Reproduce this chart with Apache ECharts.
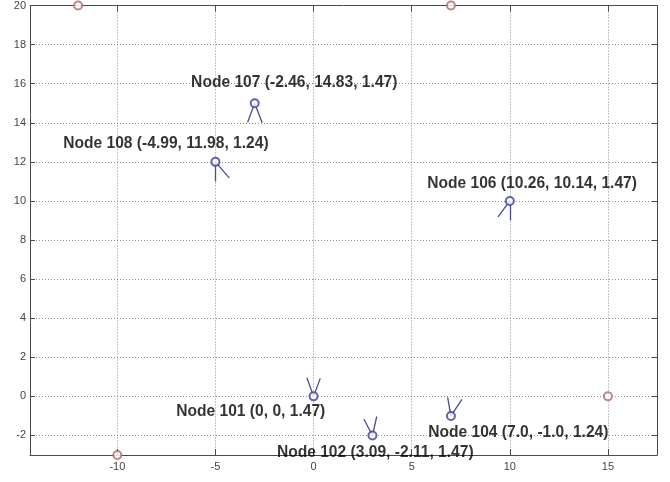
<!DOCTYPE html>
<html>
<head>
<meta charset="utf-8">
<script src="https://cdn.jsdelivr.net/npm/echarts@6/dist/echarts.min.js"></script>
<style>html,body{margin:0;padding:0;background:#fff}#c{width:670px;height:482px}</style>
</head>
<body>
<div id="c"></div>
<script>
// Anchor (reference) points, red circles
var anchorX = [-12, 7, 15, -10];
var anchorY = [20, 20, 0, -3];

// Nodes, blue circles
var nodeX = [0, 3, 7, 10, -3, -5];
var nodeY = [0, -2, -1, 10, 15, 12];

// Orientation arms (offsets from each node, data units)
var armAx = [-0.34, -0.43, -0.17, 0, -0.36, 0];
var armAy = [0.95, 0.83, 0.95, -1.0, -0.97, -1.0];
var armBx = [0.34, 0.22, 0.56, -0.6, 0.38, 0.7];
var armBy = [0.92, 0.97, 0.85, -0.82, -1.0, -0.82];

// Text annotations
var labelTexts = [
  'Node 101 (0, 0, 1.47)',
  'Node 102 (3.09, -2.11, 1.47)',
  'Node 104 (7.0, -1.0, 1.24)',
  'Node 106 (10.26, 10.14, 1.47)',
  'Node 107 (-2.46, 14.83, 1.47)',
  'Node 108 (-4.99, 11.98, 1.24)'
];
var labelX = [-7.0, -1.87, 5.84, 5.79, -6.24, -12.76];
var labelY = [-0.8, -2.86, -1.87, 10.88, 16.04, 12.92];

// Axis ranges / ticks
var xMin = -14.45, xMax = 17.5, xStep = 5;
var yMin = -3, yMax = 20, yStep = 2;

var FONT = '"Liberation Sans", Arial, sans-serif';
var axisColor = '#4a4a4a';

function makeAxis(isX, pos, showLabel, isMain) {
  var ax = {
    type: 'value',
    position: pos,
    min: isX ? xMin : yMin,
    max: isX ? xMax : yMax,
    minInterval: isX ? xStep : yStep,
    maxInterval: isX ? xStep : yStep,
    axisLine: { show: true, onZero: false, lineStyle: { color: axisColor, width: 1 } },
    axisTick: { show: true, inside: true, length: isX ? 6 : 5, lineStyle: { color: axisColor } },
    axisLabel: {
      show: showLabel,
      showMinLabel: true,
      showMaxLabel: true,
      color: '#444',
      fontFamily: FONT,
      fontSize: 11,
      margin: isX ? 6 : 4,
      formatter: function (v) {
        var s = isX ? xStep : yStep;
        return (Math.abs(v / s - Math.round(v / s)) < 1e-6) ? String(v) : '';
      }
    },
    splitLine: {
      show: isMain,
      lineStyle: { color: '#8c8c8c', type: [1, 2], width: 1 }
    }
  };
  return ax;
}

var lineData = [];
for (var i = 0; i < nodeX.length; i++) {
  lineData.push({ coords: [[nodeX[i], nodeY[i]], [nodeX[i] + armAx[i], nodeY[i] + armAy[i]]] });
  lineData.push({ coords: [[nodeX[i], nodeY[i]], [nodeX[i] + armBx[i], nodeY[i] + armBy[i]]] });
}

var anchors = anchorX.map(function (x, i) { return [x, anchorY[i]]; });
var nodes = nodeX.map(function (x, i) { return [x, nodeY[i]]; });
var labels = labelX.map(function (x, i) { return { value: [x, labelY[i]], name: labelTexts[i] }; });

var chart = echarts.init(document.getElementById('c'), null, { renderer: 'canvas' });
chart.setOption({
  animation: false,
  backgroundColor: '#fff',
  grid: { left: 30, right: 13, top: 5, bottom: 27, containLabel: false },
  xAxis: [makeAxis(true, 'bottom', true, true), makeAxis(true, 'top', false, false)],
  yAxis: [makeAxis(false, 'left', true, true), makeAxis(false, 'right', false, false)],
  series: [
    {
      type: 'lines',
      coordinateSystem: 'cartesian2d',
      xAxisIndex: 0, yAxisIndex: 0,
      polyline: false,
      silent: true,
      lineStyle: { color: '#4a4a9a', width: 1.3, opacity: 1 },
      data: lineData,
      z: 3
    },
    {
      type: 'scatter',
      xAxisIndex: 0, yAxisIndex: 0,
      symbol: 'emptyCircle',
      symbolSize: 8,
      clip: false,
      itemStyle: { color: '#b06868', borderWidth: 1 },
      data: anchors,
      z: 4
    },
    {
      type: 'scatter',
      xAxisIndex: 0, yAxisIndex: 0,
      symbol: 'emptyCircle',
      symbolSize: 8,
      clip: false,
      itemStyle: { color: '#3b3b9c', borderWidth: 1.3 },
      data: nodes,
      z: 4
    },
    {
      type: 'scatter',
      xAxisIndex: 0, yAxisIndex: 0,
      symbolSize: 0,
      clip: false,
      silent: true,
      label: {
        show: true,
        position: 'right',
        distance: 0,
        align: 'left',
        verticalAlign: 'middle',
        formatter: '{b}',
        color: '#000',
        fontFamily: FONT,
        fontWeight: 'bold',
        fontSize: 15.6
      },
      data: labels,
      z: 6
    }
  ]
});
</script>
</body>
</html>
